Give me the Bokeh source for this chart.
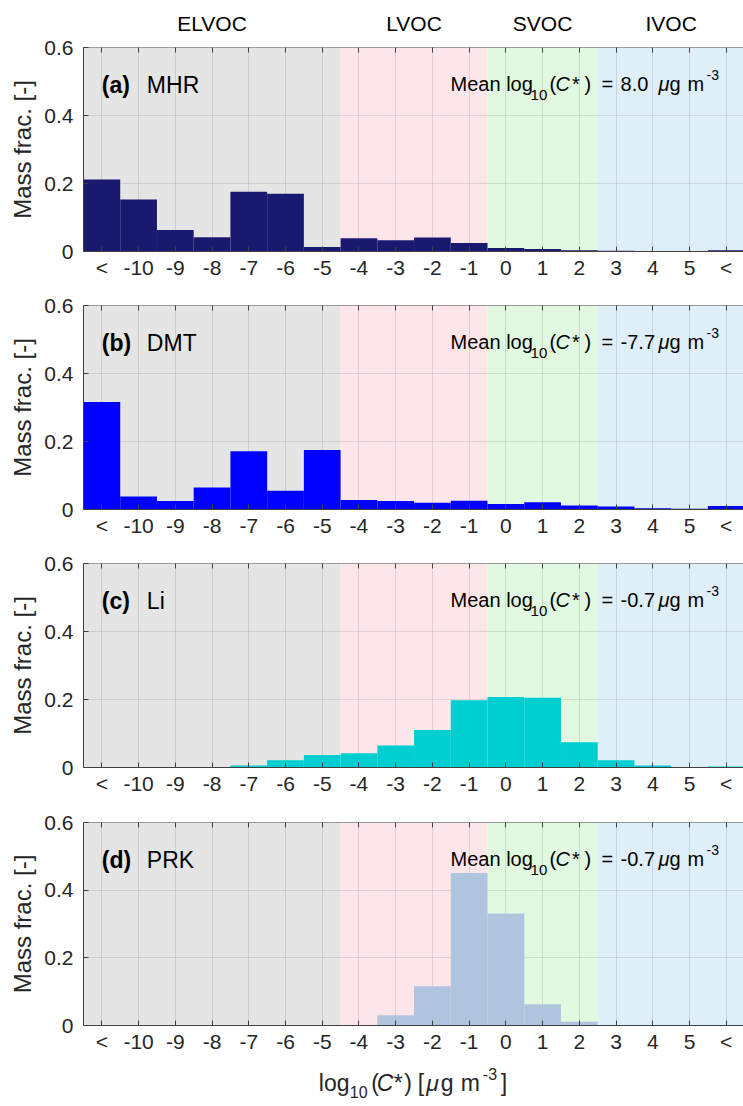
import numpy as np
from bokeh.plotting import figure
from bokeh.models import Range1d, FixedTicker, LinearAxis, Label
from bokeh.layouts import column
from bokeh.embed import file_html
from bokeh.resources import INLINE

# ---------------- data ----------------
categories = ["<", "-10", "-9", "-8", "-7", "-6", "-5", "-4", "-3", "-2",
              "-1", "0", "1", "2", "3", "4", "5", "<"]
mhr = [0.212, 0.153, 0.063, 0.042, 0.176, 0.170, 0.013, 0.039, 0.033, 0.041,
       0.025, 0.010, 0.007, 0.004, 0.002, 0.001, 0.001, 0.004]
dmt = [0.316, 0.038, 0.025, 0.065, 0.171, 0.055, 0.175, 0.028, 0.025, 0.020,
       0.026, 0.016, 0.021, 0.012, 0.009, 0.004, 0.002, 0.010]
li = [0.0, 0.0, 0.0, 0.0, 0.006, 0.021, 0.037, 0.042, 0.065, 0.110,
      0.198, 0.207, 0.205, 0.074, 0.021, 0.006, 0.001, 0.003]
prk = [0.0, 0.0, 0.0, 0.0, 0.0, 0.0, 0.0, 0.0, 0.030, 0.116,
       0.451, 0.331, 0.063, 0.011, 0.0, 0.0, 0.0, 0.0]
series = [mhr, dmt, li, prk]
panel_tags = ["(a)", "(b)", "(c)", "(d)"]
panel_names = ["MHR", "DMT", "Li", "PRK"]
mean_values = ["8.0 ", "-7.7", "-0.7", "-0.7"]
volatility_classes = ["ELVOC", "LVOC", "SVOC", "IVOC"]
class_sizes = [7, 4, 3, 4]          # number of bins in each class
y_ticks = [0, 0.2, 0.4, 0.6]
y_tick_labels = ["0", "0.2", "0.4", "0.6"]

# ---------------- styles ----------------
bar_colors = ["#191970", "#0000ff", "#00ced1", "#b0c4de"]
class_colors = ["#e5e5e5", "#fde6ea", "#e1f8e1", "#dfeff9"]
FONT = "Liberation Sans"
TXT = "#262626"
AX = "#404040"

x = np.arange(1, len(categories) + 1)
edges = np.concatenate([[0.5], 0.5 + np.cumsum(class_sizes)])
centers = (edges[:-1] + edges[1:]) / 2
x_over = {int(i): c for i, c in zip(x, categories)}
y_over = {t: l for t, l in zip(y_ticks, y_tick_labels)}

# layout (figure heights / borders)
tops = [47, 15, 15, 16]
bottoms = [39, 39, 39, 39]
frames = [204, 204, 204, 203]
W = 743
LEFT = 83
XR = (0.5, 18.47)

figs = []
for k in range(4):
    p = figure(width=W, height=tops[k] + frames[k] + bottoms[k],
               x_range=Range1d(*XR), y_range=Range1d(0, 0.6),
               output_backend="svg", toolbar_location=None,
               min_border_left=LEFT, min_border_right=0,
               min_border_top=tops[k], min_border_bottom=bottoms[k])
    p.outline_line_color = None
    p.background_fill_color = "white"

    # class backgrounds
    p.quad(left=edges[:-1], right=edges[1:], bottom=0, top=0.6,
           color=class_colors, line_color=None, level="image")

    # bars
    p.vbar(x=x, top=series[k], width=1.0, color=bar_colors[k],
           line_color=None)

    # axes
    xt = FixedTicker(ticks=list(x))
    yt = FixedTicker(ticks=y_ticks)
    xa = p.xaxis[0]
    xa.ticker = xt
    xa.major_label_overrides = x_over
    xa.major_tick_in = 5
    xa.major_tick_out = 0
    xa.minor_tick_line_color = None
    xa.major_label_standoff = 4
    xa.major_label_text_font = FONT
    xa.major_label_text_font_size = "21px"
    xa.major_label_text_color = TXT
    xa.axis_line_color = AX
    xa.major_tick_line_color = AX

    ya = p.yaxis[0]
    ya.ticker = yt
    ya.major_label_overrides = y_over
    ya.major_tick_in = 5
    ya.major_tick_out = 0
    ya.minor_tick_line_color = None
    ya.major_label_standoff = 10
    ya.major_label_text_font = FONT
    ya.major_label_text_font_size = "21px"
    ya.major_label_text_color = TXT
    ya.axis_line_color = AX
    ya.major_tick_line_color = AX
    ya.axis_label = "Mass frac. [-]"
    ya.axis_label_text_font = FONT
    ya.axis_label_text_font_size = "24px"
    ya.axis_label_text_font_style = "normal"
    ya.axis_label_text_color = TXT
    ya.axis_label_standoff = 5

    top_ax = LinearAxis(ticker=xt, major_label_text_font_size="1px",
                        major_label_text_color=None,
                        major_tick_in=5, major_tick_out=0,
                        minor_tick_line_color=None, axis_line_color="#9a9a9a",
                        major_tick_line_color=AX, major_label_standoff=0)
    p.add_layout(top_ax, "above")

    if k == 0:
        cls_ax = LinearAxis(ticker=FixedTicker(ticks=list(centers)),
                            major_label_overrides={float(c): n for c, n in
                                                   zip(centers, volatility_classes)},
                            major_label_text_font=FONT,
                            major_label_text_font_size="21px",
                            major_label_text_color="black",
                            major_tick_in=0, major_tick_out=0,
                            major_tick_line_color=None,
                            minor_tick_line_color=None, axis_line_color=None,
                            major_label_standoff=13)
        p.add_layout(cls_ax, "above")

    # grids
    p.xgrid.ticker = xt
    p.ygrid.ticker = yt
    p.xgrid.grid_line_color = "#000000"
    p.xgrid.grid_line_alpha = 0.1
    p.ygrid.grid_line_color = "#000000"
    p.ygrid.grid_line_alpha = 0.1

    # panel labels
    ylab = 0.6 - 37 * 0.6 / frames[k]
    p.add_layout(Label(x=1, y=ylab, text=panel_tags[k], text_font=FONT,
                       text_font_size="23px", text_font_style="bold",
                       text_baseline="middle", text_align="left",
                       text_color="black"))
    p.add_layout(Label(x=1, y=ylab, x_offset=45, text=panel_names[k],
                       text_font=FONT, text_font_size="23px",
                       text_baseline="middle", text_align="left",
                       text_color="black"))

    # mean annotation
    ybase = 0.6 - 36 * 0.6 / frames[k]
    x0 = 10.494
    pieces = [("Mean log", 0, "20px", "normal", 0),
              ("10", 80, "15px", "normal", -11.5),
              ("(", 99, "20px", "normal", 0),
              ("C", 105, "20px", "italic", 0),
              ("*", 121.5, "20px", "normal", 0),
              (")", 134, "20px", "normal", 0),
              ("=", 151, "20px", "normal", 0),
              (mean_values[k], 170, "20px", "normal", 0),
              ("\u03bc", 208, "20px", "italic", 0),
              ("g", 219, "20px", "normal", 0),
              ("m", 237, "20px", "normal", 0),
              ("-3", 256, "14px", "normal", 8.5)]
    for t, dx, fs, st, dy in pieces:
        p.add_layout(Label(x=x0, y=ybase, x_offset=dx, y_offset=dy, text=t,
                           text_font=FONT, text_font_size=fs,
                           text_font_style=st, text_baseline="alphabetic",
                           text_align="left", text_color="black"))
    figs.append(p)

# x-axis label strip below the last panel
q = figure(width=W, height=42, x_range=Range1d(*XR), y_range=Range1d(0, 42),
           output_backend="svg", toolbar_location=None,
           x_axis_location=None, y_axis_location=None,
           min_border_left=LEFT, min_border_right=0,
           min_border_top=0, min_border_bottom=0)
q.outline_line_color = None
q.grid.visible = False
x0 = 6.908
yb = 24
xl = [("log", 0, "23px", "normal", 0),
      ("10", 31, "16px", "normal", -9.5),
      ("(", 52.5, "23px", "normal", 0),
      ("C", 58, "23px", "italic", 0),
      ("*", 75, "23px", "normal", 0),
      (")", 85.5, "23px", "normal", 0),
      ("[", 99, "23px", "normal", 0),
      ("\u03bc", 107.5, "23px", "italic", 0),
      ("g", 122, "23px", "normal", 0),
      ("m", 142, "23px", "normal", 0),
      ("-3", 164, "16px", "normal", 9),
      ("]", 182, "23px", "normal", 0)]
for t, dx, fs, st, dy in xl:
    q.add_layout(Label(x=x0, y=yb, x_offset=dx, y_offset=dy, text=t,
                       text_font=FONT, text_font_size=fs,
                       text_font_style=st, text_baseline="alphabetic",
                       text_align="left", text_color=TXT))
figs.append(q)

layout = column(*figs, spacing=0)
open("out.html", "w").write(file_html(layout, INLINE))
